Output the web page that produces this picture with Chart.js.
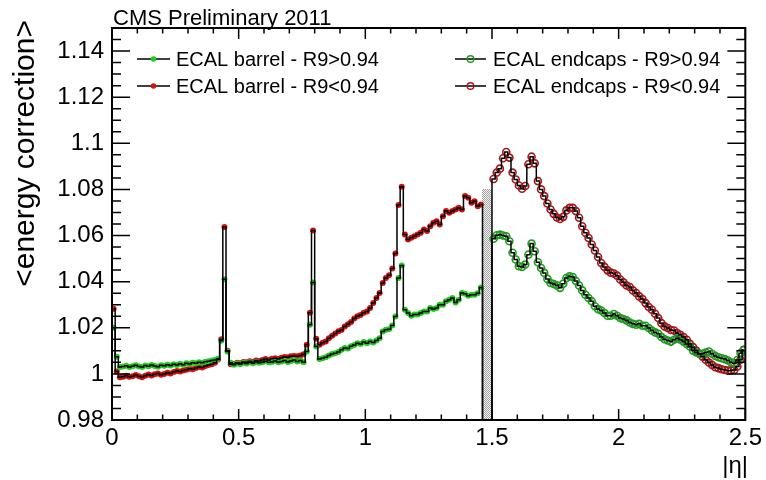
<!DOCTYPE html>
<html>
<head>
<meta charset="utf-8">
<script src="https://cdn.jsdelivr.net/npm/chart.js@4.4.0/dist/chart.umd.min.js"></script>
<style>
  html, body { margin: 0; padding: 0; background: #fff; }
  #wrap { width: 766px; height: 480px; }
</style>
</head>
<body>
<div id="wrap"><canvas id="corr" width="766" height="480"></canvas></div>
<script>
// eta binning: 200 bins of 0.0125 on 0..2.5, barrel up to 1.4625, endcaps from 1.5
const binWidth = 0.0125;
const barrelStart = 0;
const endcapStart = 1.5;
const gapLow = 1.4625;
const gapHigh = 1.5;
const gapBandTop = 1.08;

const xTickLabels = [0, 0.5, 1, 1.5, 2, 2.5];
const yTickLabels = [0.98, 1, 1.02, 1.04, 1.06, 1.08, 1.1, 1.12, 1.14];

// <energy correction> per eta bin, barrel, R9 > 0.94
const barrelHighR9 = [
  1.0200, 1.0074, 1.0030, 1.0032, 1.0035, 1.0030, 1.0033, 1.0037, 1.0032, 1.0030,
  1.0036, 1.0033, 1.0038, 1.0034, 1.0031, 1.0037, 1.0035, 1.0040, 1.0036, 1.0042,
  1.0038, 1.0044, 1.0040, 1.0046, 1.0043, 1.0048, 1.0046, 1.0050, 1.0048, 1.0053,
  1.0055, 1.0058, 1.0060, 1.0066, 1.0144, 1.0410, 1.0097, 1.0048, 1.0040, 1.0045,
  1.0042, 1.0048, 1.0045, 1.0050, 1.0046, 1.0052, 1.0048, 1.0050, 1.0055, 1.0050,
  1.0052, 1.0056, 1.0050, 1.0054, 1.0058, 1.0052, 1.0056, 1.0060, 1.0054, 1.0058,
  1.0050, 1.0097, 1.0213, 1.0396, 1.0119, 1.0064, 1.0068, 1.0072, 1.0080, 1.0086,
  1.0090, 1.0095, 1.0105, 1.0112, 1.0110, 1.0120, 1.0125, 1.0133, 1.0130, 1.0138,
  1.0133, 1.0140, 1.0136, 1.0145, 1.0155, 1.0184, 1.0191, 1.0194, 1.0210, 1.0249,
  1.0416, 1.0470, 1.0278, 1.0264, 1.0252, 1.0257, 1.0257, 1.0264, 1.0271, 1.0271,
  1.0286, 1.0281, 1.0286, 1.0300, 1.0300, 1.0315, 1.0322, 1.0329, 1.0310, 1.0322,
  1.0351, 1.0348, 1.0339, 1.0343, 1.0343, 1.0350, 1.0375
];

// barrel, R9 < 0.94
const barrelLowR9 = [
  1.0283, 1.0010, 0.9985, 0.9988, 0.9992, 0.9988, 0.9990, 0.9995, 0.9990, 0.9985,
  0.9992, 0.9997, 0.9993, 0.9998, 1.0002, 0.9996, 1.0000, 1.0005, 1.0002, 1.0008,
  1.0012, 1.0010, 1.0015, 1.0018, 1.0022, 1.0020, 1.0025, 1.0030, 1.0028, 1.0034,
  1.0038, 1.0042, 1.0048, 1.0062, 1.0150, 1.0637, 1.0100, 1.0042, 1.0043, 1.0048,
  1.0046, 1.0052, 1.0050, 1.0055, 1.0052, 1.0058, 1.0056, 1.0060, 1.0064, 1.0060,
  1.0066, 1.0068, 1.0064, 1.0070, 1.0073, 1.0072, 1.0076, 1.0078, 1.0076, 1.0080,
  1.0085, 1.0126, 1.0265, 1.0622, 1.0152, 1.0126, 1.0135, 1.0140, 1.0155, 1.0165,
  1.0175, 1.0185, 1.0190, 1.0205, 1.0215, 1.0225, 1.0240, 1.0250, 1.0255, 1.0265,
  1.0271, 1.0286, 1.0307, 1.0329, 1.0351, 1.0394, 1.0416, 1.0428, 1.0457, 1.0522,
  1.0732, 1.0812, 1.0604, 1.0583, 1.0590, 1.0597, 1.0605, 1.0612, 1.0626, 1.0620,
  1.0640, 1.0655, 1.0662, 1.0648, 1.0684, 1.0706, 1.0699, 1.0706, 1.0713, 1.0720,
  1.0713, 1.0771, 1.0764, 1.0742, 1.0749, 1.0727, 1.0735
];

// endcaps, R9 > 0.94
const endcapHighR9 = [
  1.0586, 1.0601, 1.0604, 1.0600, 1.0597, 1.0575, 1.0525, 1.0496, 1.0467, 1.0464,
  1.0474, 1.0517, 1.0565, 1.0532, 1.0484, 1.0459, 1.0438, 1.0412, 1.0394, 1.0390,
  1.0384, 1.0373, 1.0391, 1.0416, 1.0423, 1.0420, 1.0403, 1.0383, 1.0362, 1.0343,
  1.0329, 1.0315, 1.0293, 1.0281, 1.0275, 1.0264, 1.0252, 1.0252, 1.0260, 1.0252,
  1.0242, 1.0238, 1.0232, 1.0223, 1.0217, 1.0213, 1.0217, 1.0209, 1.0209, 1.0199,
  1.0188, 1.0180, 1.0174, 1.0160, 1.0150, 1.0145, 1.0140, 1.0148, 1.0155, 1.0148,
  1.0140, 1.0130, 1.0119, 1.0101, 1.0093, 1.0087, 1.0087, 1.0093, 1.0097, 1.0087,
  1.0078, 1.0072, 1.0068, 1.0064, 1.0058, 1.0050, 1.0046, 1.0060, 1.0090, 1.0104
];

// endcaps, R9 < 0.94
const endcapLowR9 = [
  1.0845, 1.0873, 1.0890, 1.0935, 1.0962, 1.0938, 1.0873, 1.0843, 1.0817, 1.0803,
  1.0815, 1.0909, 1.0942, 1.0913, 1.0836, 1.0800, 1.0771, 1.0739, 1.0713, 1.0694,
  1.0678, 1.0672, 1.0681, 1.0709, 1.0720, 1.0720, 1.0706, 1.0677, 1.0640, 1.0612,
  1.0589, 1.0561, 1.0535, 1.0507, 1.0481, 1.0464, 1.0449, 1.0439, 1.0435, 1.0426,
  1.0409, 1.0397, 1.0383, 1.0377, 1.0362, 1.0351, 1.0336, 1.0325, 1.0307, 1.0290,
  1.0278, 1.0261, 1.0242, 1.0220, 1.0206, 1.0199, 1.0190, 1.0188, 1.0177, 1.0170,
  1.0160, 1.0148, 1.0130, 1.0116, 1.0101, 1.0087, 1.0075, 1.0061, 1.0049, 1.0039,
  1.0029, 1.0025, 1.0020, 1.0017, 1.0014, 1.0015, 1.0017, 1.0032, 1.0061, 1.0104
];

const legendLabels = [
  'ECAL barrel - R9>0.94', 'ECAL barrel - R9<0.94',
  'ECAL endcaps - R9>0.94', 'ECAL endcaps - R9<0.94'
];

const FONT = "'Liberation Sans', Arial, Helvetica, sans-serif";
const GREEN = '#22cc22', RED = '#d41010';
const GREEN_OPEN = '#1f9a1f', RED_OPEN = '#a31818';

// bin centers -> points
function toPoints(values, start) {
  return values.map((v, i) => ({ x: start + binWidth * (i + 0.5), y: v }));
}

// histogram outline; empty gap bins sit at zero so the steps drop out of the frame
function barrelLine(values) {
  const pts = toPoints(values, barrelStart);
  pts.push({ x: gapLow + binWidth / 2, y: 0 });
  return pts;
}
function endcapLine(values) {
  return [{ x: gapHigh - binWidth / 2, y: 0 }].concat(toPoints(values, endcapStart));
}

const markerSets = [
  { data: toPoints(barrelHighR9, barrelStart), color: GREEN, open: false },
  { data: toPoints(barrelLowR9, barrelStart), color: RED, open: false },
  { data: toPoints(endcapHighR9, endcapStart), color: GREEN_OPEN, open: true },
  { data: toPoints(endcapLowR9, endcapStart), color: RED_OPEN, open: true }
];

const datasets = [];
[barrelLine(barrelHighR9), barrelLine(barrelLowR9), endcapLine(endcapHighR9), endcapLine(endcapLowR9)]
  .forEach(pts => datasets.push({
    data: pts,
    showLine: true,
    stepped: 'middle',
    borderColor: '#000',
    borderWidth: 1.5,
    pointRadius: 0,
    fill: false,
    order: 0
  }));
markerSets.forEach(m => datasets.push({
  data: m.data,
  showLine: false,
  pointRadius: m.open ? 3.5 : 3,
  pointBorderWidth: m.open ? 1.6 : 0,
  pointBorderColor: m.color,
  pointBackgroundColor: m.open ? 'rgba(255,255,255,0)' : m.color,
  order: 1
}));

function hatchPattern(ctx) {
  const c = document.createElement('canvas');
  c.width = 2; c.height = 2;
  const p = c.getContext('2d');
  p.fillStyle = '#f2f2f2'; p.fillRect(0, 0, 2, 2);
  p.fillStyle = '#a4a4a4'; p.fillRect(0, 0, 1, 1); p.fillRect(1, 1, 1, 1);
  return ctx.createPattern(c, 'repeat');
}

function drawMarker(ctx, x, y, set) {
  ctx.beginPath();
  ctx.arc(x, y, set.open ? 3.3 : 2.8, 0, Math.PI * 2);
  if (set.open) {
    ctx.lineWidth = 1.4; ctx.strokeStyle = set.color; ctx.stroke();
  } else {
    ctx.fillStyle = set.color; ctx.fill();
  }
}

const rootStyle = {
  id: 'rootStyle',
  beforeDatasetsDraw(chart) {
    const { ctx, chartArea: a, scales: { x, y } } = chart;
    const x0 = Math.round(x.getPixelForValue(gapLow)), x1 = Math.round(x.getPixelForValue(gapHigh));
    const yt = Math.round(y.getPixelForValue(gapBandTop));
    ctx.save();
    ctx.fillStyle = hatchPattern(ctx);
    ctx.fillRect(x0, yt, x1 - x0, a.bottom - yt);
    ctx.restore();
  },
  afterDatasetsDraw(chart) {
    const { ctx, chartArea: a, scales: { x, y } } = chart;
    ctx.save();
    ctx.strokeStyle = '#000';

    // ticks inside the frame, all four sides
    ctx.lineWidth = 1.5;
    ctx.beginPath();
    for (let k = 0; k <= 25; k++) {
      const px = x.getPixelForValue(k / 10);
      const len = k % 5 === 0 ? 11 : 5.5;
      ctx.moveTo(px, a.bottom); ctx.lineTo(px, a.bottom - len);
      ctx.moveTo(px, a.top); ctx.lineTo(px, a.top + len);
    }
    for (let k = 0; k <= 34; k++) {
      const py = y.getPixelForValue(0.98 + k * 0.005);
      const len = k % 4 === 0 ? 18 : 9;
      ctx.moveTo(a.left, py); ctx.lineTo(a.left + len, py);
      ctx.moveTo(a.right, py); ctx.lineTo(a.right - len, py);
    }
    ctx.stroke();

    ctx.lineWidth = 2;
    ctx.strokeRect(a.left, a.top, a.right - a.left, a.bottom - a.top);

    // texts
    ctx.fillStyle = '#000';
    ctx.font = '22px ' + FONT;
    ctx.textAlign = 'left';
    ctx.textBaseline = 'alphabetic';
    ctx.fillText('CMS Preliminary 2011', 113, 25);

    ctx.font = '24px ' + FONT;
    ctx.textAlign = 'right';
    ctx.fillText('|η|', 748, 473);

    ctx.save();
    ctx.translate(34, 20);
    ctx.rotate(-Math.PI / 2);
    ctx.font = '30px ' + FONT;
    ctx.textAlign = 'right';
    ctx.fillText('<energy correction>', 0, 0);
    ctx.restore();

    // legend, two columns
    const cols = [{ x1: 137, x2: 170, tx: 176 }, { x1: 455, x2: 486, tx: 493 }];
    const rows = [59, 86];
    ctx.font = '20px ' + FONT;
    ctx.textAlign = 'left';
    ctx.textBaseline = 'middle';
    legendLabels.forEach((label, i) => {
      const c = cols[Math.floor(i / 2)], ry = rows[i % 2];
      ctx.beginPath();
      ctx.lineWidth = 1.5; ctx.strokeStyle = '#000';
      ctx.moveTo(c.x1, ry); ctx.lineTo(c.x2, ry); ctx.stroke();
      drawMarker(ctx, (c.x1 + c.x2) / 2, ry, markerSets[i]);
      ctx.fillStyle = '#000';
      ctx.fillText(label, c.tx, ry + 1);
    });
    ctx.restore();
  }
};

new Chart(document.getElementById('corr'), {
  type: 'line',
  data: { datasets },
  options: {
    responsive: false,
    devicePixelRatio: 1,
    animation: false,
    layout: { padding: { top: 28, right: 18, left: 0, bottom: 0 } },
    plugins: { legend: { display: false }, tooltip: { enabled: false }, title: { display: false } },
    scales: {
      x: {
        type: 'linear', min: 0, max: 2.5,
        grid: { display: false, drawTicks: false },
        border: { display: false },
        afterFit: s => { s.height = 60; },
        afterBuildTicks: s => { s.ticks = xTickLabels.map(v => ({ value: v })); },
        ticks: {
          color: '#000', font: { family: FONT, size: 24 }, padding: 4,
          maxRotation: 0, autoSkip: false,
          callback: v => String(v)
        }
      },
      y: {
        type: 'linear', min: 0.98, max: 1.15,
        grid: { display: false, drawTicks: false },
        border: { display: false },
        afterFit: s => { s.width = 112; },
        afterBuildTicks: s => { s.ticks = yTickLabels.map(v => ({ value: v })); },
        ticks: {
          color: '#000', font: { family: FONT, size: 24 }, padding: 8,
          autoSkip: false,
          callback: v => String(v)
        }
      }
    }
  },
  plugins: [rootStyle]
});
</script>
</body>
</html>
